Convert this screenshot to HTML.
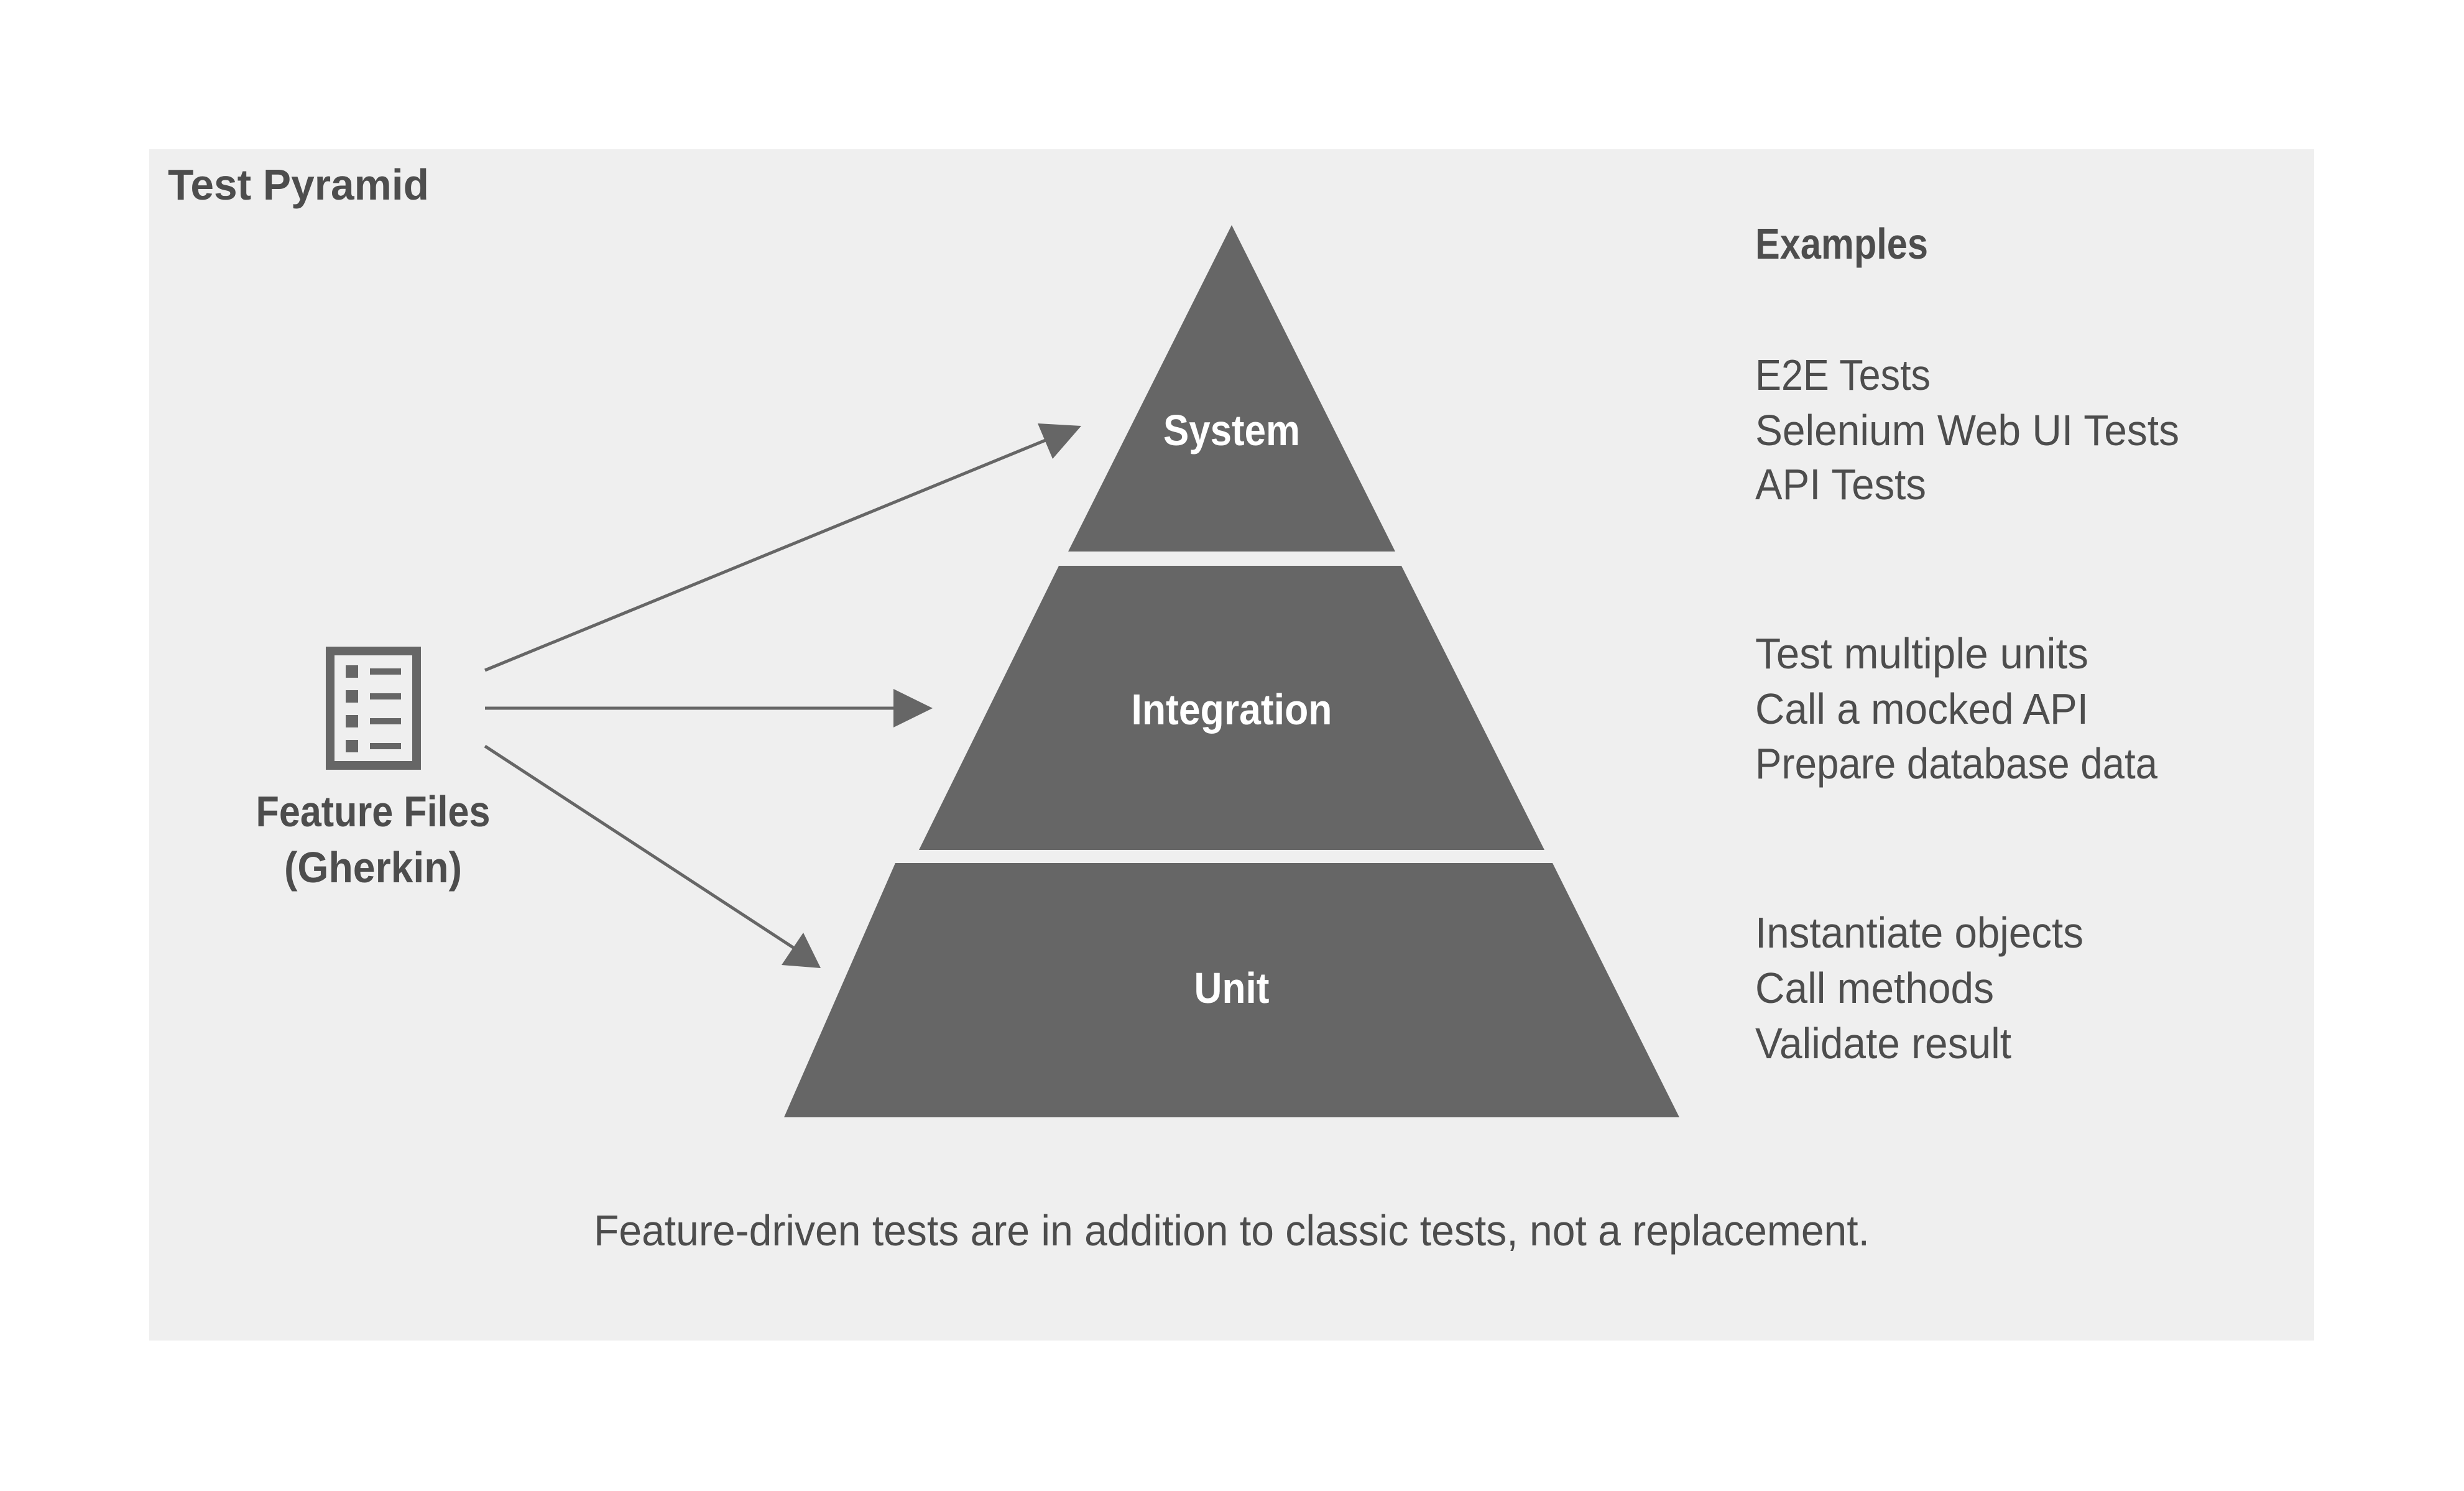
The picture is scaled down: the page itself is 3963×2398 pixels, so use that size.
<!DOCTYPE html>
<html><head><meta charset="utf-8"><style>
html,body{margin:0;padding:0;background:#fff;}
svg{display:block;}
text{font-family:"Liberation Sans",sans-serif;}
</style></head><body>
<svg width="3963" height="2398" viewBox="0 0 3963 2398" xmlns="http://www.w3.org/2000/svg">
<rect x="240" y="240" width="3482" height="1916" fill="#efefef"/>
<text x="270" y="321" font-size="70" fill="#4d4d4d" font-weight="bold" textLength="420" lengthAdjust="spacingAndGlyphs">Test Pyramid</text>
<!-- pyramid -->
<polygon points="1981,362 2244,887 1718,887" fill="#666"/>
<polygon points="1703,910 2254,910 2484,1367 1478,1367" fill="#666"/>
<polygon points="1440,1388 2497,1388 2701,1797 1261,1797" fill="#666"/>
<text x="1981" y="716" font-size="70" fill="#fff" font-weight="bold" text-anchor="middle" textLength="220" lengthAdjust="spacingAndGlyphs">System</text>
<text x="1981" y="1165" font-size="70" fill="#fff" font-weight="bold" text-anchor="middle" textLength="323" lengthAdjust="spacingAndGlyphs">Integration</text>
<text x="1981" y="1613" font-size="70" fill="#fff" font-weight="bold" text-anchor="middle" textLength="121" lengthAdjust="spacingAndGlyphs">Unit</text>
<!-- icon -->
<rect x="531" y="1047" width="139" height="184" fill="none" stroke="#666" stroke-width="14"/>
<g fill="#666">
<rect x="556" y="1070" width="20" height="20"/><rect x="595" y="1075" width="50" height="10"/>
<rect x="556" y="1110" width="20" height="20"/><rect x="595" y="1115" width="50" height="10"/>
<rect x="556" y="1150" width="20" height="20"/><rect x="595" y="1155" width="50" height="10"/>
<rect x="556" y="1190" width="20" height="20"/><rect x="595" y="1195" width="50" height="10"/>
</g>
<text x="600" y="1329" font-size="70" fill="#4d4d4d" font-weight="bold" text-anchor="middle" textLength="377" lengthAdjust="spacingAndGlyphs">Feature Files</text>
<text x="600" y="1419" font-size="70" fill="#4d4d4d" font-weight="bold" text-anchor="middle" textLength="286" lengthAdjust="spacingAndGlyphs">(Gherkin)</text>
<!-- arrows -->
<g stroke="#666" stroke-width="5" fill="none">
<line x1="780" y1="1078" x2="1684" y2="707"/>
<line x1="780" y1="1139" x2="1440" y2="1139"/>
<line x1="780" y1="1200" x2="1285" y2="1530"/>
</g>
<g fill="#666">
<polygon points="1500,1139 1437,1108 1437,1170"/>
<polygon points="1739,685 1669,681 1693,738"/>
<polygon points="1320,1557 1292,1500 1257,1552"/>
</g>
<!-- examples -->
<g fill="#4d4d4d" font-size="70">
<text x="2823" y="416" font-weight="bold" textLength="278" lengthAdjust="spacingAndGlyphs">Examples</text>
<text x="2823" y="627" textLength="282" lengthAdjust="spacingAndGlyphs">E2E Tests</text>
<text x="2823" y="716" textLength="682" lengthAdjust="spacingAndGlyphs">Selenium Web UI Tests</text>
<text x="2823" y="803" textLength="275" lengthAdjust="spacingAndGlyphs">API Tests</text>
<text x="2823" y="1075" textLength="536" lengthAdjust="spacingAndGlyphs">Test multiple units</text>
<text x="2823" y="1164" textLength="536" lengthAdjust="spacingAndGlyphs">Call a mocked API</text>
<text x="2823" y="1252" textLength="647" lengthAdjust="spacingAndGlyphs">Prepare database data</text>
<text x="2823" y="1524" textLength="528" lengthAdjust="spacingAndGlyphs">Instantiate objects</text>
<text x="2823" y="1613" textLength="384" lengthAdjust="spacingAndGlyphs">Call methods</text>
<text x="2823" y="1702" textLength="412" lengthAdjust="spacingAndGlyphs">Validate result</text>
<text x="1981" y="2003" text-anchor="middle" textLength="2052" lengthAdjust="spacingAndGlyphs">Feature-driven tests are in addition to classic tests, not a replacement.</text>
</g>
</svg>
</body></html>
